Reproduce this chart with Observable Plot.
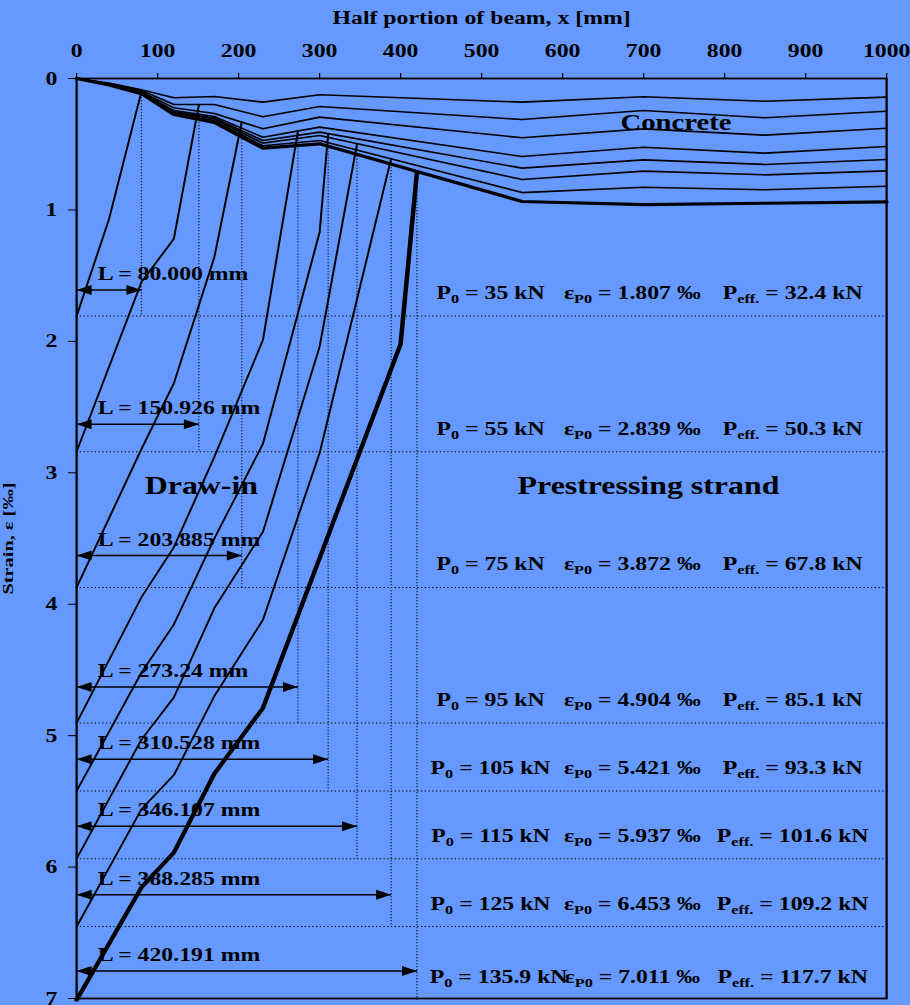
<!DOCTYPE html>
<html><head><meta charset="utf-8">
<script src="https://cdn.jsdelivr.net/npm/d3@7"></script>
<script src="https://cdn.jsdelivr.net/npm/@observablehq/plot@0.6"></script>
<style>html,body{margin:0;padding:0;background:#6699ff;overflow:hidden}</style>
</head><body><div id="chart"></div>
<script>
// ---------- data ----------
const loads = [35, 55, 75, 95, 105, 115, 125, 135.9];          // P0 [kN]
const epsP0 = [1.807, 2.839, 3.872, 4.904, 5.421, 5.937, 6.453, 7.011]; // strain at x=0 [‰]
const pEff = ["32.4", "50.3", "67.8", "85.1", "93.3", "101.6", "109.2", "117.7"]; // [kN]
const drawInL = [80.000, 150.926, 203.885, 273.24, 310.528, 346.107, 388.285, 420.191]; // [mm]
const drawInText = ["80.000", "150.926", "203.885", "273.24", "310.528", "346.107", "388.285", "420.191"];
const xTicks = [0, 100, 200, 300, 400, 500, 600, 700, 800, 900, 1000];
const yTicks = [0, 1, 2, 3, 4, 5, 6, 7];

// concrete strain along the beam, one series per load
const concreteX = [0, 40, 80, 120, 170, 230, 300, 550, 700, 850, 1000];
const concreteStrain = [
  [0, 0.035, 0.085, 0.147, 0.137, 0.180, 0.124, 0.180, 0.139, 0.173, 0.142],
  [0, 0.040, 0.090, 0.198, 0.198, 0.291, 0.213, 0.312, 0.244, 0.299, 0.249],
  [0, 0.040, 0.100, 0.223, 0.266, 0.383, 0.294, 0.451, 0.383, 0.431, 0.378],
  [0, 0.045, 0.105, 0.244, 0.289, 0.447, 0.370, 0.594, 0.523, 0.568, 0.517],
  [0, 0.045, 0.108, 0.251, 0.300, 0.472, 0.408, 0.682, 0.619, 0.654, 0.616],
  [0, 0.050, 0.110, 0.259, 0.308, 0.492, 0.434, 0.769, 0.705, 0.733, 0.703],
  [0, 0.050, 0.112, 0.266, 0.320, 0.512, 0.472, 0.868, 0.827, 0.847, 0.820],
  [0, 0.050, 0.115, 0.274, 0.335, 0.530, 0.497, 0.936, 0.959, 0.949, 0.938]
];

// prestressing strand strain in the draw-in zone, [x, strain] per load
const strandCurves = [
  [[0, 1.807], [40, 1.07], [80, 0.10]],
  [[0, 2.839], [80, 1.55], [120, 1.22], [150.926, 0.20]],
  [[0, 3.872], [80, 2.82], [120, 2.32], [170, 1.36], [203.885, 0.33]],
  [[0, 4.904], [80, 3.947], [120, 3.567], [170, 2.88], [230, 1.99], [273.24, 0.40]],
  [[0, 5.421], [80, 4.52], [120, 4.155], [170, 3.50], [230, 2.78], [300, 1.17], [310.528, 0.42]],
  [[0, 5.937], [80, 5.03], [120, 4.71], [170, 4.03], [230, 3.45], [300, 2.04], [346.107, 0.50]],
  [[0, 6.453], [80, 5.56], [120, 5.30], [170, 4.70], [230, 4.12], [300, 2.85], [388.285, 0.61]],
  [[0, 7.011], [80, 6.155], [120, 5.89], [170, 5.29], [230, 4.79], [400, 2.02], [420.191, 0.71]]
];

// ---------- layout (annotation placement) ----------
const arrowLevel = [1.61, 2.63, 3.63, 4.63, 5.18, 5.69, 6.21, 6.79];
const labelX = 26;
const colX = [511, 686, 884];
const col1Shift = [0, 0, 0, 0, 0, 0, 0, 10];
const STRETCH = 1.25;            // the reference is stretched horizontally
const W = 910 / STRETCH, H = 1005;

// ---------- tables ----------
const concreteRows = concreteStrain.flatMap((s, i) => s.map((v, j) => ({i, x: concreteX[j], s: v})));
const strandRows = strandCurves.flatMap((c, i) => c.map(([x, s]) => ({i, x, s})));
const cases = loads.map((p, i) => ({
  i, p, eps: epsP0[i], eff: pEff[i], L: drawInL[i], Ltext: drawInText[i],
  end: strandCurves[i][strandCurves[i].length - 1][1], ay: arrowLevel[i], x0: 0,
  c1: colX[0] + col1Shift[i]
}));

const dotted = {stroke: "black", strokeWidth: 1, strokeDasharray: "1,2"};
const fs = 19;

const svg = Plot.plot({
  width: W, height: H,
  marginLeft: 60.8, marginRight: 19.2, marginTop: 78, marginBottom: 7,
  style: {fontFamily: "'Liberation Serif', 'Times New Roman', serif", fontWeight: "bold", background: "#6699ff", color: "black", fontSize: fs + "px"},
  x: {domain: [0, 1000]},
  y: {domain: [0, 7], reverse: true},
  marks: [
    Plot.ruleY(cases.filter(d => d.eps < 7), {y: "eps", ...dotted}),
    Plot.ruleX(cases, {x: "L", y1: "end", y2: "eps", ...dotted}),
    Plot.line(concreteRows.filter(d => d.i < 7), {x: "x", y: "s", z: "i", stroke: "black", strokeWidth: 1.6}),
    Plot.line(concreteRows.filter(d => d.i === 7), {x: "x", y: "s", z: "i", stroke: "black", strokeWidth: 3.2}),
    Plot.line(strandRows.filter(d => d.i < 7), {x: "x", y: "s", z: "i", stroke: "black", strokeWidth: 1.6}),
    Plot.line(strandRows.filter(d => d.i === 7), {x: "x", y: "s", z: "i", stroke: "black", strokeWidth: 3.6}),
    Plot.link(cases, {x1: "x0", x2: "L", y1: "ay", y2: "ay", stroke: "black", strokeWidth: 1.5}),
    Plot.vector(cases, {x: "x0", y: "ay", rotate: -90, length: 12, r: 5, anchor: "end", shape: "spike", fill: "black", stroke: "none"}),
    Plot.vector(cases, {x: "L", y: "ay", rotate: 90, length: 12, r: 5, anchor: "end", shape: "spike", fill: "black", stroke: "none"}),
    Plot.text(cases, {x: labelX, y: "ay", text: d => `L = ${d.Ltext} mm`, textAnchor: "start", lineAnchor: "bottom", dy: -10, fontSize: fs}),
    Plot.text(cases, {x: "c1", y: "eps", text: d => `P_{0} = ${d.p} kN`, lineAnchor: "bottom", dy: -17, fontSize: fs}),
    Plot.text(cases, {x: colX[1], y: "eps", text: d => `ε_{P0} = ${d.eps.toFixed(3)} ‰`, lineAnchor: "bottom", dy: -17, fontSize: fs}),
    Plot.text(cases, {x: colX[2], y: "eps", text: d => `P_{eff.} = ${d.eff} kN`, lineAnchor: "bottom", dy: -17, fontSize: fs}),
    Plot.text(["Concrete"], {x: 740, y: 0.39, lineAnchor: "bottom", fontSize: 23}),
    Plot.text(["Draw-in"], {x: 154, y: 3.16, lineAnchor: "bottom", fontSize: 25.5}),
    Plot.text(["Prestressing strand"], {x: 706, y: 3.16, lineAnchor: "bottom", fontSize: 25.5}),
    Plot.axisX(xTicks, {anchor: "top", tickSize: 6, tickPadding: 16, fontSize: fs, label: null, tickFormat: d => String(d)}),
    Plot.axisY(yTicks, {anchor: "left", tickSize: 6.4, tickPadding: 9, fontSize: fs, label: null, tickFormat: d => String(d)}),
    Plot.frame({stroke: "black", strokeWidth: 1.8}),
    Plot.text(["Half portion of beam, x [mm]"], {frameAnchor: "top", dy: -55, lineAnchor: "bottom", fontSize: fs}),
    Plot.text(["Strain, ε [‰]"], {frameAnchor: "left", dx: -50.8, dy: 56, rotate: -90, textAnchor: "start", lineAnchor: "bottom", fontSize: 11})
  ]
});

// subscripts: "_{...}" -> lowered, smaller tspan
const NS = "http://www.w3.org/2000/svg";
svg.querySelectorAll("text").forEach(el => {
  const s = el.textContent;
  if (s.startsWith("Strain")) {
    el.setAttribute("textLength", "112");
    el.setAttribute("lengthAdjust", "spacingAndGlyphs");
  }
  if (!s.includes("_{")) return;
  el.textContent = "";
  let low = false;
  for (const part of s.split(/(_\{[^}]*\})/)) {
    if (!part) continue;
    const t = document.createElementNS(NS, "tspan");
    if (part.startsWith("_{")) {
      t.textContent = part.slice(2, -1);
      t.setAttribute("font-size", "13");
      if (!low) t.setAttribute("dy", "4");
      low = true;
    } else {
      t.textContent = part;
      if (low) t.setAttribute("dy", "-4");
      low = false;
    }
    el.appendChild(t);
  }
});

// reproduce the reference's horizontal stretch
svg.setAttribute("width", 910);
svg.setAttribute("height", 1005);
svg.setAttribute("preserveAspectRatio", "none");
svg.style.width = "910px";
svg.style.height = "1005px";
svg.style.maxWidth = "none";
document.getElementById("chart").appendChild(svg);
</script>
</body></html>
